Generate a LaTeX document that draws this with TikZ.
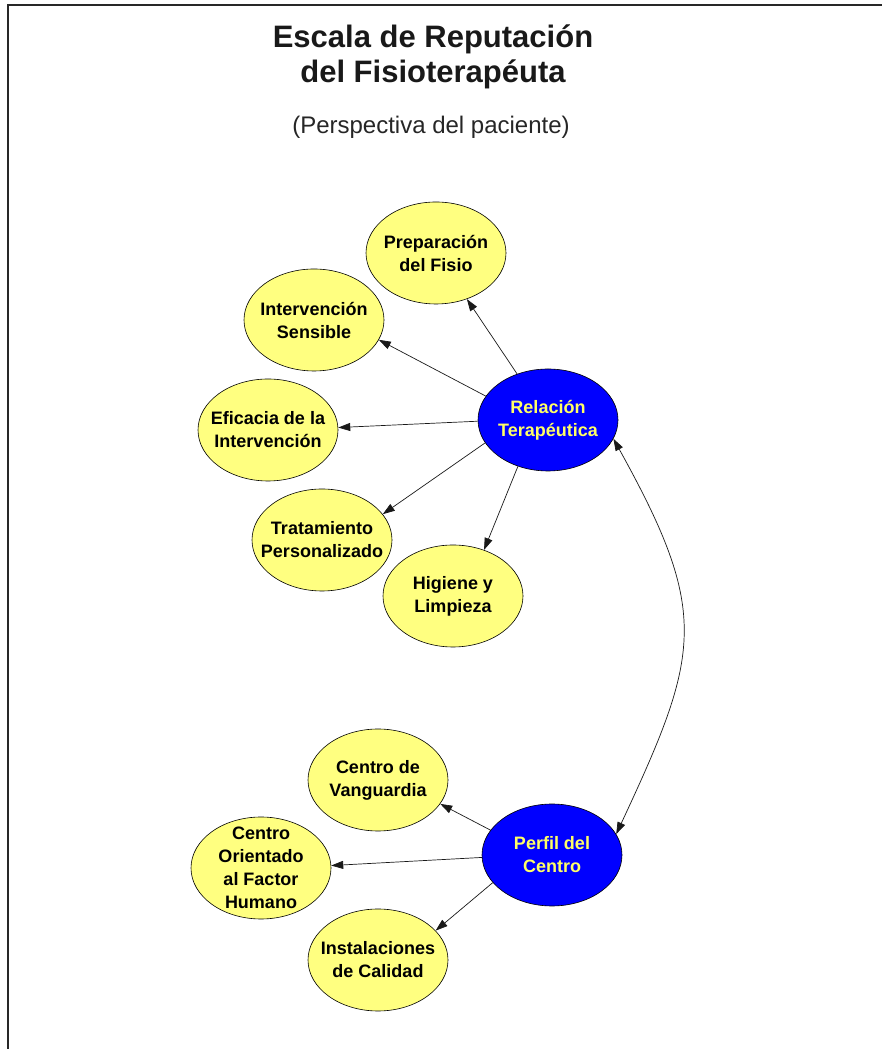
\documentclass[tikz,border=0pt]{standalone}
\usepackage{fontspec}
\setmainfont{Liberation Sans}
\usetikzlibrary{shapes.geometric,arrows.meta}
\definecolor{ell}{RGB}{255,255,128}
\definecolor{blu}{RGB}{0,0,255}
\definecolor{ytx}{RGB}{255,255,102}
\definecolor{frm}{RGB}{40,40,40}
\begin{document}
\begin{tikzpicture}[x=1pt,y=1pt,
  yel/.style={ellipse, draw=black, line width=0.6pt, fill=ell, minimum width=140pt, minimum height=102pt, inner sep=0pt},
  bnode/.style={yel, fill=blu},
  txt/.style={align=center, font=\fontsize{18}{23}\selectfont\bfseries, text=black, inner sep=0pt},
  btxt/.style={txt, text=ytx},
  tip/.tip={Triangle[length=12pt,width=8pt]},
  arr/.style={-tip, line width=0.7pt, draw=black!90}
]
\useasboundingbox (0,0) rectangle (882,1049);
\draw[line width=2.2pt, color=frm] (882,1044) -- (8,1044) -- (8,0);

\node[anchor=base, font=\fontsize{31}{36}\selectfont\bfseries, text=black!90] (t1) at (433,1001) {Escala de Reputación};
\node[anchor=base, font=\fontsize{31}{36}\selectfont\bfseries, text=black!90] (t2) at (433,966) {del Fisioterapéuta};
\node[anchor=base, font=\fontsize{24}{28}\selectfont, text=black!85] (t3) at (431,915) {(Perspectiva del paciente)};

\node[bnode, label={[btxt]center:Relación\\Terapéutica}] (rel) at (548,629) {};
\node[yel, label={[txt]center:Preparación\\del Fisio}] (prep) at (436,796) {};
\node[yel, label={[txt]center:Intervención\\Sensible}] (sens) at (314,729) {};
\node[yel, label={[txt]center:Eficacia de la\\Intervención}] (efic) at (268,619) {};
\node[yel, label={[txt]center:Tratamiento\\Personalizado}] (trat) at (322,509) {};
\node[yel, label={[txt]center:Higiene y\\Limpieza}] (hig) at (453,453) {};

\node[bnode, label={[btxt]center:Perfil del\\Centro}] (perf) at (552,194) {};
\node[yel, label={[txt]center:Centro de\\Vanguardia}] (vang) at (378,269) {};
\node[yel, label={[txt]center:Centro\\Orientado\\al Factor\\Humano}] (hum) at (261,181) {};
\node[yel, label={[txt]center:Instalaciones\\de Calidad}] (inst) at (378,89) {};

\draw[arr] (rel) -- (prep);
\draw[arr] (rel.159) -- (sens.-17);
\draw[arr] (rel.181) -- (efic.2);
\draw[arr] (rel.200) -- (trat.23);
\draw[arr] (rel.237) -- (hig.56);
\draw[arr] (perf.158) -- (vang.-21);
\draw[arr] (perf.182) -- (hum.2);
\draw[arr] (perf.205) -- (inst.27);
\draw[tip-tip, line width=0.7pt, draw=black!90] (rel.-16) .. controls +(-61:200) and +(65:200) .. (perf.18);
\end{tikzpicture}
\end{document}
